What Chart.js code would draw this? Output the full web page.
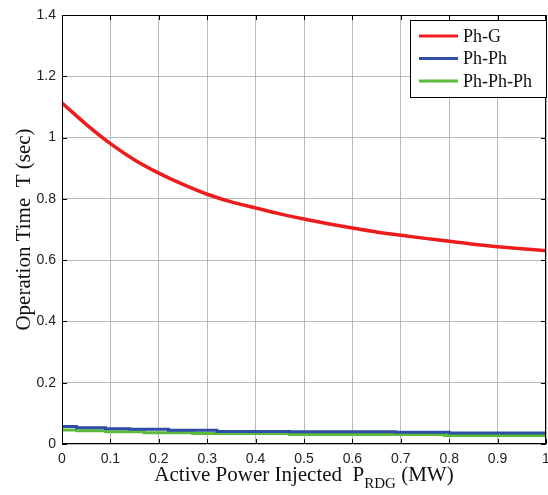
<!DOCTYPE html>
<html lang="en">

<head>
    <meta charset="UTF-8">
    <title>Operation Time vs Active Power</title>
    <script src="https://cdn.jsdelivr.net/npm/chart.js"></script>
    <style>
        body { margin: 0; background: #fff; }
        #box { width: 548px; height: 495px; }
    </style>
</head>

<body>
    <div id="box">
        <canvas id="myChart" width="548" height="495"></canvas>
    </div>

<script>
// dados
const potencia = [0, 0.05, 0.1, 0.15, 0.2, 0.25, 0.3, 0.35, 0.4, 0.45, 0.5, 0.55, 0.6, 0.65, 0.7, 0.75, 0.8, 0.85, 0.9, 0.95, 1];
const tempoPhG = [1.113, 1.043, 0.980, 0.927, 0.884, 0.847, 0.815, 0.790, 0.770, 0.751, 0.734, 0.719, 0.705, 0.692, 0.681, 0.671, 0.662, 0.652, 0.644, 0.637, 0.631];

const passosPhPh = [0, 0.03, 0.09, 0.14, 0.22, 0.32, 0.47, 0.69, 0.80, 1];
const tempoPhPh = [0.057, 0.053, 0.050, 0.048, 0.045, 0.041, 0.040, 0.038, 0.036, 0.036];

const passosPhPhPh = [0, 0.03, 0.09, 0.17, 0.27, 0.47, 0.79, 1];
const tempoPhPhPh = [0.046, 0.043, 0.040, 0.037, 0.034, 0.031, 0.028, 0.028];

const xTicks = [0, 0.1, 0.2, 0.3, 0.4, 0.5, 0.6, 0.7, 0.8, 0.9, 1];
const yTicks = [0, 0.2, 0.4, 0.6, 0.8, 1, 1.2, 1.4];

function pares(xs, ys) {
    return xs.map(function (x, i) { return { x: x, y: ys[i] }; });
}

// titulos dos eixos e legenda (estilo matlab)
const extras = {
    id: 'extras',
    afterDraw: function (chart) {
        const ctx = chart.ctx;
        const a = chart.chartArea;
        ctx.save();

        // moldura
        ctx.strokeStyle = '#000';
        ctx.lineWidth = 1;
        ctx.strokeRect(a.left + 0.5, a.top + 0.5, a.right - a.left - 1, a.bottom - a.top - 1);

        // marcas para dentro
        const sx = chart.scales.x, sy = chart.scales.y;
        ctx.beginPath();
        xTicks.forEach(function (v) {
            const px = Math.round(sx.getPixelForValue(v)) + 0.5;
            ctx.moveTo(px, a.bottom); ctx.lineTo(px, a.bottom - 5);
            ctx.moveTo(px, a.top); ctx.lineTo(px, a.top + 5);
        });
        yTicks.forEach(function (v) {
            const py = Math.round(sy.getPixelForValue(v)) + 0.5;
            ctx.moveTo(a.left, py); ctx.lineTo(a.left + 5, py);
            ctx.moveTo(a.right, py); ctx.lineTo(a.right - 5, py);
        });
        ctx.stroke();

        // titulo eixo x
        ctx.fillStyle = '#111';
        ctx.textBaseline = 'alphabetic';
        ctx.textAlign = 'left';
        ctx.font = '21px "Liberation Serif"';
        const t1 = 'Active Power Injected  P';
        ctx.font = '15px "Liberation Serif"';
        const wSub = ctx.measureText('RDG').width;
        ctx.font = '21px "Liberation Serif"';
        const w1 = ctx.measureText(t1).width;
        const t2 = ' (MW)';
        const w2 = ctx.measureText(t2).width;
        let x0 = (a.left + a.right) / 2 - (w1 + wSub + w2) / 2;
        ctx.fillText(t1, x0, 481);
        ctx.font = '15px "Liberation Serif"';
        ctx.fillText('RDG', x0 + w1, 488);
        ctx.font = '21px "Liberation Serif"';
        ctx.fillText(t2, x0 + w1 + wSub, 481);

        // titulo eixo y
        ctx.save();
        ctx.translate(30, (a.top + a.bottom) / 2);
        ctx.rotate(-Math.PI / 2);
        ctx.textAlign = 'center';
        ctx.fillText('Operation Time  T (sec)', 0, 0);
        ctx.restore();

        // legenda
        const lx = 410, ly = 20, lw = 136, lh = 77;
        ctx.fillStyle = '#fff';
        ctx.fillRect(lx, ly, lw, lh);
        ctx.strokeStyle = '#000';
        ctx.lineWidth = 1;
        ctx.strokeRect(lx + 0.5, ly + 0.5, lw, lh);
        ctx.font = '18px "Liberation Serif"';
        ctx.textBaseline = 'middle';
        chart.data.datasets.forEach(function (ds, i) {
            const yy = ly + 16 + i * 22.5;
            ctx.strokeStyle = ds.borderColor;
            ctx.lineWidth = 3;
            ctx.beginPath();
            ctx.moveTo(lx + 9, yy); ctx.lineTo(lx + 48, yy);
            ctx.stroke();
            ctx.fillStyle = '#111';
            ctx.textAlign = 'left';
            ctx.fillText(ds.label, lx + 53, yy + 1);
        });
        ctx.restore();
    }
};

const dados = {
    datasets: [{
        label: 'Ph-G',
        data: pares(potencia, tempoPhG),
        borderColor: '#EE1C1C',
        borderWidth: 3.5,
        pointRadius: 0,
        cubicInterpolationMode: 'monotone'
    }, {
        label: 'Ph-Ph',
        data: pares(passosPhPh, tempoPhPh),
        borderColor: '#2E4DA7',
        borderWidth: 3,
        pointRadius: 0,
        stepped: true
    }, {
        label: 'Ph-Ph-Ph',
        data: pares(passosPhPhPh, tempoPhPhPh),
        borderColor: '#5CBB3A',
        borderWidth: 3,
        pointRadius: 0,
        stepped: true
    }]
};

const config = {
    type: 'line',
    data: dados,
    options: {
        responsive: false,
        animation: false,
        layout: { padding: { top: 15, right: 2, left: 0, bottom: 0 } },
        plugins: { legend: { display: false }, tooltip: { enabled: false } },
        scales: {
            x: {
                type: 'linear',
                min: 0, max: 1,
                afterFit: function (s) { s.height = 51; s.paddingLeft = 0; s.paddingRight = 0; },
                afterBuildTicks: function (s) { s.ticks = xTicks.map(function (v) { return { value: v }; }); },
                grid: { color: '#b9b9b9', drawTicks: false },
                border: { display: false },
                ticks: {
                    color: '#222',
                    padding: 7,
                    maxRotation: 0,
                    font: { family: 'Liberation Sans', size: 14 },
                    callback: function (v) { return String(v); }
                }
            },
            y: {
                min: 0, max: 1.4,
                afterFit: function (s) { s.width = 62; },
                afterBuildTicks: function (s) { s.ticks = yTicks.map(function (v) { return { value: v }; }); },
                grid: { color: '#b9b9b9', drawTicks: false },
                border: { display: false },
                ticks: {
                    color: '#222',
                    padding: 6,
                    font: { family: 'Liberation Sans', size: 14 },
                    callback: function (v) { return String(v); }
                }
            }
        }
    },
    plugins: [extras]
};

let myChart = new Chart(document.getElementById('myChart'), config);
</script>
</body>

</html>
